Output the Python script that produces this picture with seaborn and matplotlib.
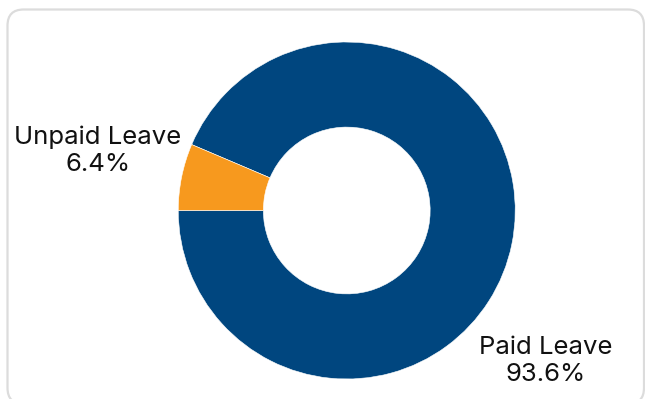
import matplotlib
matplotlib.use("Agg")
import matplotlib.pyplot as plt
import seaborn as sns
from matplotlib.patches import FancyBboxPatch

categories = ["Paid Leave", "Unpaid Leave"]
values = [93.6, 6.4]
colors = ["#00467F", "#F7991E"]

sns.set_theme(style="white")
plt.rcParams['font.family'] = ['Inter', 'DejaVu Sans']

W, H = 645, 399
fig = plt.figure(figsize=(W / 100, H / 100), dpi=100)

# rounded frame
frame = FancyBboxPatch((7.5 / W, -5 / H), (644 - 7.5) / W, (H - 9.5 + 5) / H,
                       boxstyle="round,pad=0,rounding_size=0.025",
                       transform=fig.transFigure, facecolor="none",
                       edgecolor="#DCDCDC", linewidth=1.6, mutation_aspect=W / H)
fig.patches.append(frame)

cx, cy, R = 346.75, H - 210.5, 168.5
ax = fig.add_axes([(cx - R) / W, (cy - R) / H, 2 * R / W, 2 * R / H])
wedges, _ = ax.pie(values, colors=colors, startangle=180, counterclock=True,
                   radius=1.0, wedgeprops=dict(width=0.505, edgecolor="white", linewidth=0.4))
ax.set_xlim(-1, 1)
ax.set_ylim(-1, 1)
ax.set_aspect("equal")
ax.axis("off")

fig.text(98 / W, 1 - 150.5 / H, f"{categories[1]}\n{values[1]}%", ha="center", va="center",
         fontsize=18.5, color="#111111", linespacing=1.2)
fig.text(546 / W, 1 - 361 / H, f"{categories[0]}\n{values[0]}%", ha="center", va="center",
         fontsize=18.5, color="#111111", linespacing=1.2)

fig.savefig("out.png", dpi=100, facecolor="white")
